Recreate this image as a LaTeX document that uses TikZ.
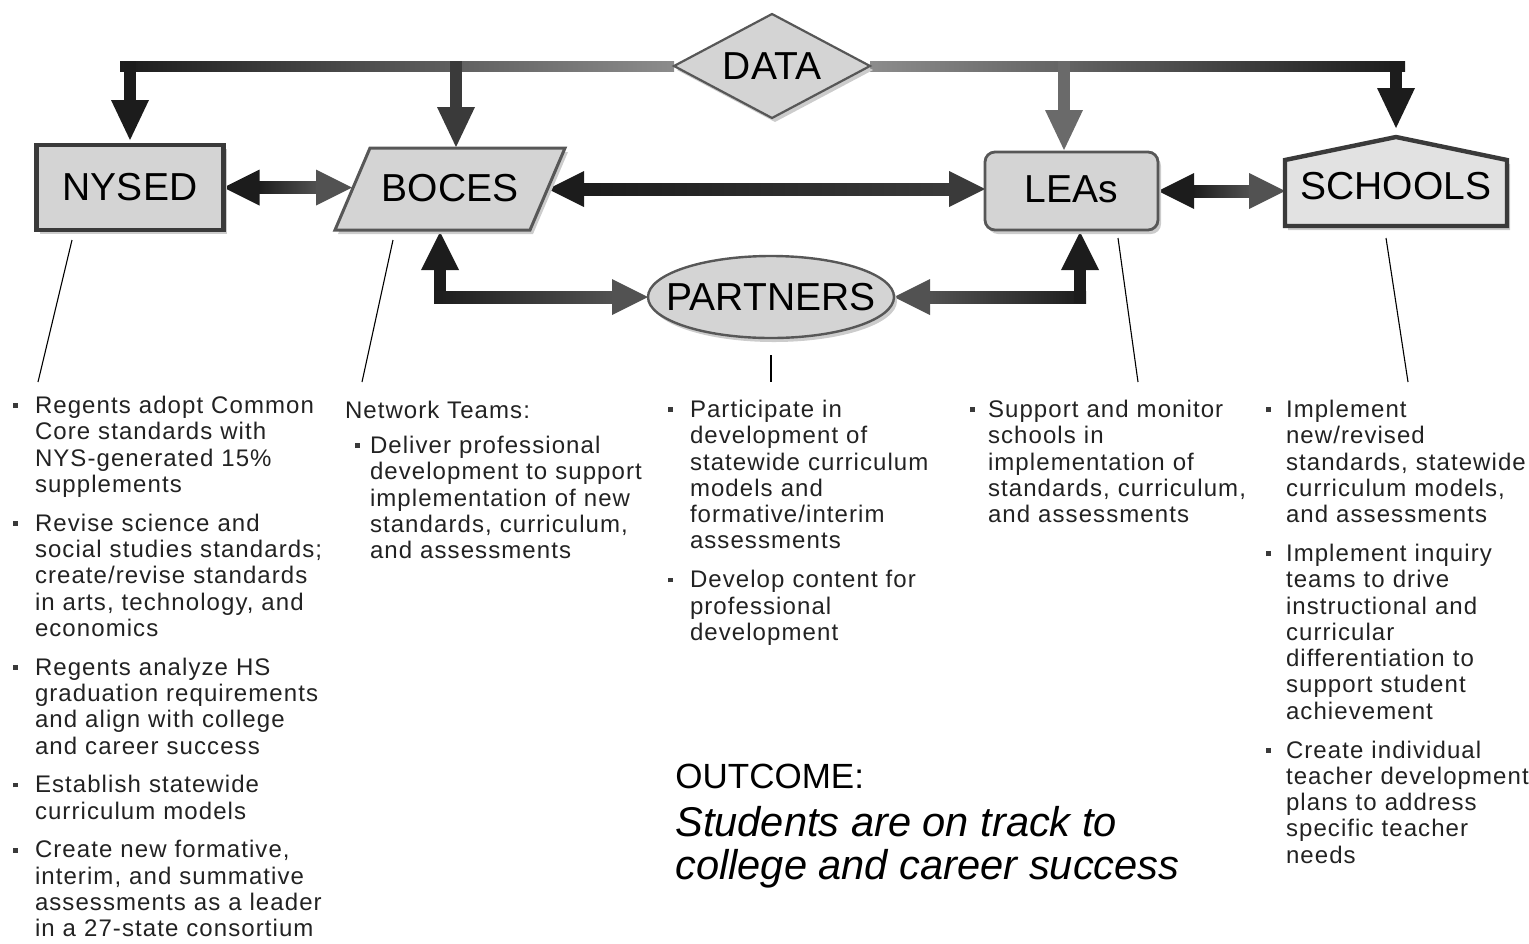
\documentclass[tikz,border=0pt]{standalone}
\usepackage{fontspec}
\setmainfont{Liberation Sans}
\newfontfamily\notesfont[LetterSpace=4.5]{Liberation Sans}
\usetikzlibrary{shapes.geometric,calc,shadows}

\pgfdeclarelayer{arrows}
\pgfdeclarelayer{outlines}
\pgfsetlayers{arrows,outlines,main}

\definecolor{nodefill}{HTML}{D4D4D4}
\definecolor{housefill}{HTML}{E2E2E2}
\definecolor{edgedark}{HTML}{3A3A3A}
\definecolor{edgegray}{HTML}{575757}
\definecolor{shadowgray}{HTML}{CCCCCC}
\definecolor{darkA}{HTML}{1C1C1C}
\definecolor{darkB}{HTML}{3A3A3A}
\definecolor{midA}{HTML}{525252}
\definecolor{midB}{HTML}{6A6A6A}
\definecolor{barmid}{HTML}{8C8C8C}
\definecolor{shaftlight}{HTML}{B2B2B2}
\definecolor{bodytext}{HTML}{222222}
\definecolor{bulletgray}{HTML}{3A3A3A}

% arrowheads: (tip coordinate, colour)
\newcommand\headright[2]{\fill[#2] (#1) -- ++(-18pt,9pt) -- ++(0,-18pt) -- cycle;}
\newcommand\headleft[2]{\fill[#2] (#1) -- ++(18pt,9pt) -- ++(0,-18pt) -- cycle;}
\newcommand\headdown[2]{\fill[#2] (#1) -- ++(-9.5pt,20pt) -- ++(19pt,0) -- cycle;}
\newcommand\headup[2]{\fill[#2] (#1) -- ++(-9.5pt,-19pt) -- ++(19pt,0) -- cycle;}

% horizontal two-way arrow: left tip, right tip, left / middle / right colour
\newcommand\twoway[5]{%
  \shade[left color=#3, middle color=#4, right color=#5]
    ($(#1)+(17pt,3pt)$) rectangle ($(#2)+(-17pt,-3pt)$);
  \headleft{#1}{#3}\headright{#2}{#5}}

% drop from the DATA bar: point on bar, tip, colour
\newcommand\datadrop[3]{%
  \fill[#3] ($(#1)+(-3pt,2.5pt)$) rectangle ($(#2)+(3pt,19pt)$);
  \headdown{#2}{#3}}

% outlines of the non-rectangular shapes, with an offset for the shadow
\newcommand\diamondpath[1]{($(data.west)+#1$) -- ($(data.north)+#1$) -- ($(data.east)+#1$) -- ($(data.south)+#1$) -- cycle}
\newcommand\bocespath[1]{($(boces.south west)+#1$) -- ($(boces.north west)+(35,0)+#1$) -- ($(boces.north east)+#1$) -- ($(boces.south east)+(-35,0)+#1$) -- cycle}
\newcommand\housepath[1]{($(schools.south west)+#1$) -- ($(schools.west)+(0,-26)+#1$) -- ($(schools.north)+(0,-9)+#1$) -- ($(schools.east)+(0,-26)+#1$) -- ($(schools.south east)+#1$) -- cycle}

% bulleted paragraph with hanging indent
\newcommand\bitem[2][11pt]{\hangindent=#1\hangafter=1\noindent
  \makebox[#1][l]{\textcolor{bulletgray}{\rule[2.7pt]{2.4pt}{2.4pt}}}#2\par}
\newcommand\notesetup{\setlength{\parskip}{6.25pt}}

\tikzset{
  label font/.style={font=\fontsize{19.5}{22}\selectfont, text=black},
  box/.style={draw=edgegray, fill=nodefill, line width=1.4pt, inner sep=0pt, outer sep=0pt, label font},
  boxshadow/.style={general shadow={fill=shadowgray, shadow xshift=1.5pt, shadow yshift=-2pt}},
  plainbox/.style={inner sep=0pt, outer sep=0pt, label font},
  notes/.style={anchor=north west, inner sep=0pt, outer sep=0pt, align=left,
    font=\notesfont\fontsize{12}{13.15}\selectfont, text=bodytext},
  leader/.style={draw=black, line width=0.55pt},
}

\begin{document}
\begin{tikzpicture}[x=0.5pt, y=-0.5pt]
\useasboundingbox (0,0) rectangle (1529,943);

% ---------- nodes ----------
\node[plainbox, minimum width=98pt, minimum height=52pt] (data) at (772,66) {DATA};
\node[box, boxshadow, draw=edgedark, line width=2.2pt, minimum width=93.5pt, minimum height=42.5pt] (nysed) at (130,187.5) {NYSED};
\node[plainbox, minimum width=115pt, minimum height=41pt] (boces) at (450,189) {\raisebox{1.5pt}{BOCES}};
\node[box, boxshadow, rounded corners=5pt, minimum width=86.5pt, minimum height=39pt] (leas) at (1071.5,191) {\raisebox{1.5pt}{LEAs}};
\node[plainbox, minimum width=111pt, minimum height=40pt] (schools) at (1396,186) {SCHOOLS};
\node[plainbox, minimum width=123pt, minimum height=41pt] (partners) at (771,297) {PARTNERS};

% ---------- shape outlines ----------
\begin{pgfonlayer}{outlines}
  \fill[shadowgray] \diamondpath{(1.5pt,-2pt)};
  \filldraw[fill=nodefill, draw=edgegray, line width=1.1pt] \diamondpath{(0,0)};
  \fill[shadowgray] \bocespath{(1.5pt,-2pt)};
  \filldraw[fill=nodefill, draw=edgegray, line width=1.5pt, line join=miter] \bocespath{(0,0)};
  \fill[shadowgray] \housepath{(1.5pt,-2pt)};
  \filldraw[fill=housefill, draw=edgedark, line width=2.2pt, line join=miter] \housepath{(0,0)};
  \fill[shadowgray] ($(partners.center)+(1.5pt,-2pt)$) ellipse [x radius=61.5pt, y radius=20.5pt];
  \filldraw[fill=nodefill, draw=edgegray, line width=1.2pt] (partners.center) ellipse [x radius=61.5pt, y radius=20.5pt];
\end{pgfonlayer}

% ---------- connectors ----------
\coordinate (barL) at (120,66);
\coordinate (barR) at (1405,66);
\coordinate (tipN) at ($(nysed.north)+(0,-5)$);
\coordinate (tipB) at ($(boces.north)+(6,-1)$);
\coordinate (tipL) at ($(leas.north)+(-7.5,-2)$);
\coordinate (tipS) at ($(schools.north)+(0,-18)$);
\coordinate (topN) at (tipN |- barL);
\coordinate (topB) at (tipB |- barL);
\coordinate (topL) at (tipL |- barL);
\coordinate (topS) at (tipS |- barL);

\coordinate (nbL) at (nysed.east);
\coordinate (nbR) at ($(nysed.east -| boces.west)+(17,0)$);
\coordinate (blL) at ($(boces.east)+(-17,0)$);
\coordinate (blR) at (boces.east -| leas.west);
\coordinate (lsL) at (leas.east);
\coordinate (lsR) at (leas.east -| schools.west);

\coordinate (upB) at ($(boces.south)+(-10,2)$);
\coordinate (cornerB) at (upB |- partners.west);
\coordinate (upL) at ($(leas.south)+(8.5,2)$);
\coordinate (cornerL) at (upL |- partners.east);

\begin{pgfonlayer}{arrows}
  % DATA bar
  \shade[left color=darkA, right color=barmid] ($(barL)+(0,2.5pt)$) rectangle ($(data.west)+(0,-2.5pt)$);
  \shade[left color=barmid, middle color=black!55, right color=darkA] ($(data.east)+(0,2.5pt)$) rectangle ($(barR)+(0,-2.5pt)$);
  \datadrop{topN}{tipN}{darkA}
  \datadrop{topB}{tipB}{darkB}
  \datadrop{topL}{tipL}{midB}
  \datadrop{topS}{tipS}{darkA}

  % links along the main row
  \twoway{nbL}{nbR}{darkA}{shaftlight}{midA}
  \twoway{blL}{blR}{darkA}{shaftlight}{darkB}
  \twoway{lsL}{lsR}{darkA}{shaftlight}{midA}

  % BOCES -- PARTNERS
  \headup{upB}{darkA}
  \fill[darkA] ($(upB)+(-3pt,-18pt)$) rectangle ($(cornerB)+(3pt,-3pt)$);
  \shade[left color=darkA, middle color=shaftlight, right color=midA]
    ($(cornerB)+(-3pt,3pt)$) rectangle ($(partners.west)+(-17pt,-3pt)$);
  \headright{partners.west}{midA}

  % PARTNERS -- LEAs
  \headleft{partners.east}{midA}
  \shade[left color=midA, middle color=shaftlight, right color=darkA]
    ($(partners.east)+(17pt,3pt)$) rectangle ($(cornerL)+(3pt,-3pt)$);
  \fill[darkA] ($(cornerL)+(-3pt,-3pt)$) rectangle ($(upL)+(3pt,-18pt)$);
  \headup{upL}{darkA}
\end{pgfonlayer}

% ---------- notes ----------
\coordinate (nysedNote) at (38,382);
\coordinate (bocesNote) at (362,382);
\coordinate (partnersNote) at (771,382);
\coordinate (leasNote) at (1138,382);
\coordinate (schoolsNote) at (1408,382);
\draw[leader] ($(nysed.south)+(-58,10)$) -- (nysedNote);
\draw[leader] ($(boces.south)+(-57,10)$) -- (bocesNote);
\draw[leader, line width=1.2pt] ($(partners.south)+(0,17)$) -- (partnersNote);
\draw[leader] ($(leas.south)+(46.5,8)$) -- (leasNote);
\draw[leader] ($(schools.south)+(-10,12)$) -- (schoolsNote);

\node[notes, text width=170pt] (nysedText) at (13,396) {\notesetup
\bitem{Regents adopt Common\newline Core standards with\newline NYS-generated 15\%\newline supplements}
\bitem{Revise science and\newline social studies standards;\newline create/revise standards\newline in arts, technology, and\newline economics}
\bitem{Regents analyze HS\newline graduation requirements\newline and align with college\newline and career success}
\bitem{Establish statewide\newline curriculum models}
\bitem{Create new formative,\newline interim, and summative\newline assessments as a leader\newline in a 27-state consortium}};

\node[notes] (bocesHead) at (345,401) {Network Teams:};
\node[notes, text width=150pt] (bocesText) at (355,436) {\notesetup
\bitem[7.5pt]{Deliver professional\newline development to support\newline implementation of new\newline standards, curriculum,\newline and assessments}};

\node[notes, text width=140pt] (partnersText) at (668,400) {\notesetup
\bitem{Participate in\newline development of\newline statewide curriculum\newline models and\newline formative/interim\newline assessments}
\bitem{Develop content for\newline professional\newline development}};

\node[notes, text width=145pt] (leasText) at (970,400) {\notesetup
\bitem[9pt]{Support and monitor\newline schools in\newline implementation of\newline standards, curriculum,\newline and assessments}};

\node[notes, text width=135pt] (schoolsText) at (1266,400) {\notesetup
\bitem[10pt]{Implement\newline new/revised\newline standards, statewide\newline curriculum models,\newline and assessments}
\bitem[10pt]{Implement inquiry\newline teams to drive\newline instructional and\newline curricular\newline differentiation to\newline support student\newline achievement}
\bitem[10pt]{Create individual\newline teacher development\newline plans to address\newline specific teacher\newline needs}};

% ---------- outcome ----------
\node[anchor=base west, inner sep=0pt, font=\fontsize{17.5}{20}\selectfont] (outcome) at (675,788) {OUTCOME:};
\node[anchor=base west, inner sep=0pt, font=\fontsize{20.8}{24}\selectfont\itshape] (outcomeA) at (675,836) {Students are on track to};
\node[anchor=base west, inner sep=0pt, font=\fontsize{20.8}{24}\selectfont\itshape] (outcomeB) at (675,879) {college and career success};
\end{tikzpicture}
\end{document}
